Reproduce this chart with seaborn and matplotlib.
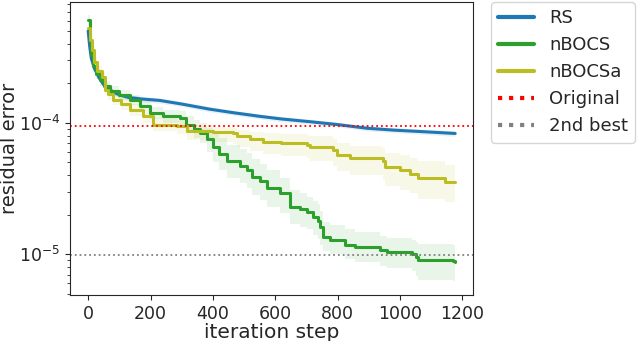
import matplotlib

matplotlib.use("Agg")
import matplotlib.pyplot as plt
import pandas as pd
import seaborn as sns

# residual error per iteration step
rs_x = [0, 5, 10, 20, 35, 50, 75, 100, 130, 170, 230, 300, 390, 470, 551, 620, 711, 800, 893, 980, 1060, 1177]
rs_y = [5.0e-4, 3.8e-4, 3.1e-4, 2.6e-4, 2.2e-4, 1.95e-4, 1.75e-4, 1.63e-4, 1.56e-4, 1.52e-4, 1.48e-4,
        1.39e-4, 1.27e-4, 1.19e-4, 1.12e-4, 1.07e-4, 1.02e-4, 0.97e-4, 0.91e-4, 0.88e-4, 0.86e-4, 0.83e-4]
rs_lo = [4.6e-4, 3.5e-4, 2.9e-4, 2.45e-4, 2.08e-4, 1.85e-4, 1.66e-4, 1.55e-4, 1.49e-4, 1.45e-4, 1.41e-4,
         1.33e-4, 1.21e-4, 1.14e-4, 1.07e-4, 1.02e-4, 0.975e-4, 0.93e-4, 0.87e-4, 0.84e-4, 0.82e-4, 0.79e-4]
rs_hi = [5.4e-4, 4.1e-4, 3.3e-4, 2.75e-4, 2.32e-4, 2.05e-4, 1.84e-4, 1.71e-4, 1.63e-4, 1.59e-4, 1.55e-4,
         1.45e-4, 1.33e-4, 1.24e-4, 1.17e-4, 1.12e-4, 1.065e-4, 1.01e-4, 0.95e-4, 0.92e-4, 0.9e-4, 0.87e-4]

nb_x = [0, 5, 10, 16, 25, 37, 50, 70, 100, 134, 165, 198, 240, 294, 315, 340, 358, 380, 400, 420, 444,
        487, 508, 524, 550, 572, 615, 647, 679, 701, 722, 737, 745, 753, 776, 824, 856, 936, 957, 1040,
        1050, 1058, 1170, 1177]
nb_y = [6.1e-4, 4.2e-4, 3.3e-4, 2.7e-4, 2.35e-4, 2.1e-4, 1.9e-4, 1.75e-4, 1.63e-4, 1.5e-4, 1.35e-4,
        1.19e-4, 1.13e-4, 1.09e-4, 9.7e-5, 9.0e-5, 8.4e-5, 7.5e-5, 6.6e-5, 5.8e-5, 5.1e-5, 4.7e-5, 4.4e-5,
        3.9e-5, 3.6e-5, 3.2e-5, 2.9e-5, 2.3e-5, 2.2e-5, 2.1e-5, 1.93e-5, 1.8e-5, 1.6e-5, 1.35e-5, 1.28e-5,
        1.18e-5, 1.14e-5, 1.08e-5, 1.04e-5, 1.0e-5, 9.5e-6, 9.0e-6, 8.9e-6, 8.8e-6]
nb_lo = [5.6e-4, 3.85e-4, 3.0e-4, 2.45e-4, 2.15e-4, 1.92e-4, 1.73e-4, 1.6e-4, 1.48e-4, 1.36e-4, 1.22e-4,
         1.07e-4, 1.0e-4, 0.95e-4, 0.84e-4, 0.76e-4, 0.7e-4, 0.6e-4, 0.5e-4, 0.44e-4, 0.38e-4, 0.35e-4,
         0.32e-4, 0.28e-4, 0.26e-4, 0.23e-4, 0.205e-4, 0.17e-4, 0.16e-4, 0.155e-4, 0.14e-4, 0.13e-4,
         0.118e-4, 0.105e-4, 0.1e-4, 0.092e-4, 0.088e-4, 0.082e-4, 0.078e-4, 0.074e-4, 0.068e-4,
         0.064e-4, 0.063e-4, 0.062e-4]
nb_hi = [6.6e-4, 4.6e-4, 3.6e-4, 2.95e-4, 2.55e-4, 2.28e-4, 2.07e-4, 1.9e-4, 1.78e-4, 1.64e-4, 1.48e-4,
         1.31e-4, 1.26e-4, 1.23e-4, 1.12e-4, 1.06e-4, 1.0e-4, 0.92e-4, 0.86e-4, 0.76e-4, 0.68e-4, 0.63e-4,
         0.59e-4, 0.53e-4, 0.49e-4, 0.44e-4, 0.38e-4, 0.31e-4, 0.29e-4, 0.275e-4, 0.255e-4, 0.24e-4,
         0.215e-4, 0.175e-4, 0.167e-4, 0.155e-4, 0.148e-4, 0.137e-4, 0.132e-4, 0.128e-4, 0.123e-4,
         0.119e-4, 0.118e-4, 0.117e-4]

nba_x = [0, 5, 11, 20, 27, 43, 54, 65, 80, 105, 134, 176, 209, 284, 316, 400, 465, 476, 520, 561, 620,
         701, 711, 786, 797, 840, 946, 952, 1000, 1032, 1059, 1138, 1144, 1177]
nba_y = [5.3e-4, 4.3e-4, 3.6e-4, 2.9e-4, 2.5e-4, 2.25e-4, 1.78e-4, 1.65e-4, 1.5e-4, 1.38e-4, 1.26e-4,
         1.12e-4, 9.7e-5, 9.4e-5, 8.6e-5, 8.55e-5, 8.35e-5, 7.9e-5, 7.5e-5, 7.2e-5, 7.0e-5, 6.8e-5, 6.5e-5,
         6.2e-5, 5.7e-5, 5.4e-5, 5.1e-5, 4.6e-5, 4.4e-5, 4.1e-5, 3.8e-5, 3.8e-5, 3.57e-5, 3.57e-5]
nba_lo = [4.9e-4, 3.95e-4, 3.3e-4, 2.65e-4, 2.3e-4, 2.05e-4, 1.62e-4, 1.5e-4, 1.36e-4, 1.25e-4, 1.13e-4,
          1.0e-4, 0.86e-4, 0.82e-4, 0.74e-4, 0.72e-4, 0.69e-4, 0.65e-4, 0.61e-4, 0.58e-4, 0.56e-4, 0.54e-4,
          0.51e-4, 0.47e-4, 0.43e-4, 0.4e-4, 0.37e-4, 0.33e-4, 0.31e-4, 0.29e-4, 0.265e-4, 0.265e-4,
          0.25e-4, 0.25e-4]
nba_hi = [5.7e-4, 4.65e-4, 3.9e-4, 3.15e-4, 2.7e-4, 2.45e-4, 1.94e-4, 1.8e-4, 1.64e-4, 1.51e-4, 1.39e-4,
          1.24e-4, 1.08e-4, 1.05e-4, 0.97e-4, 0.93e-4, 0.92e-4, 0.88e-4, 0.85e-4, 0.83e-4, 0.82e-4, 0.81e-4,
          0.79e-4, 0.75e-4, 0.7e-4, 0.67e-4, 0.64e-4, 0.59e-4, 0.57e-4, 0.54e-4, 0.51e-4, 0.51e-4,
          0.48e-4, 0.48e-4]

original_err = 9.5e-5
second_best_err = 9.8e-6

sns.set_style("ticks")
plt.rcParams["font.family"] = ["DejaVu Sans"]

fig = plt.figure(figsize=(6.4, 3.41), dpi=100)
ax = fig.add_axes([0.109, 0.135, 0.63, 0.859])

# RS improves in tiny steps, so it is drawn as a plain line; the BOCS runs step
series = [
    ("RS", rs_x, rs_y, rs_lo, rs_hi, "#1f77b4", "default"),
    ("nBOCS", nb_x, nb_y, nb_lo, nb_hi, "#2ca02c", "steps-post"),
    ("nBOCSa", nba_x, nba_y, nba_lo, nba_hi, "#bcbd22", "steps-post"),
]

for name, xs, ys, lo, hi, col, ds in series:
    df = pd.DataFrame({"step": xs, "err": ys, "lo": lo, "hi": hi})
    step = "post" if ds == "steps-post" else None
    ax.fill_between(df["step"], df["lo"], df["hi"], step=step, color=col, alpha=0.1, lw=0)
    sns.lineplot(x="step", y="err", data=df, ax=ax, color=col, lw=2.2,
                 drawstyle=ds, label=name, estimator=None)

ax.axhline(original_err, color="red", linestyle=":", lw=1.3, label="Original")
ax.axhline(second_best_err, color="gray", linestyle=":", lw=1.3, label="2nd best")

ax.set_yscale("log")
ax.set_ylim(4.9e-6, 8.3e-4)
ax.set_xlim(-59, 1234)
ax.set_xticks([0, 200, 400, 600, 800, 1000, 1200])
ax.tick_params(labelsize=12.5)
ax.set_xlabel("iteration step", fontsize=14.5, labelpad=0)
ax.set_ylabel("residual error", fontsize=14)
ax.yaxis.set_label_coords(-0.125, 0.5)

leg = ax.legend(loc="upper left", bbox_to_anchor=(1.045, 1.0), fontsize=13, frameon=True,
                borderaxespad=0)
for line in leg.get_lines():
    line.set_linewidth(3)

fig.savefig("out.png", dpi=100)
